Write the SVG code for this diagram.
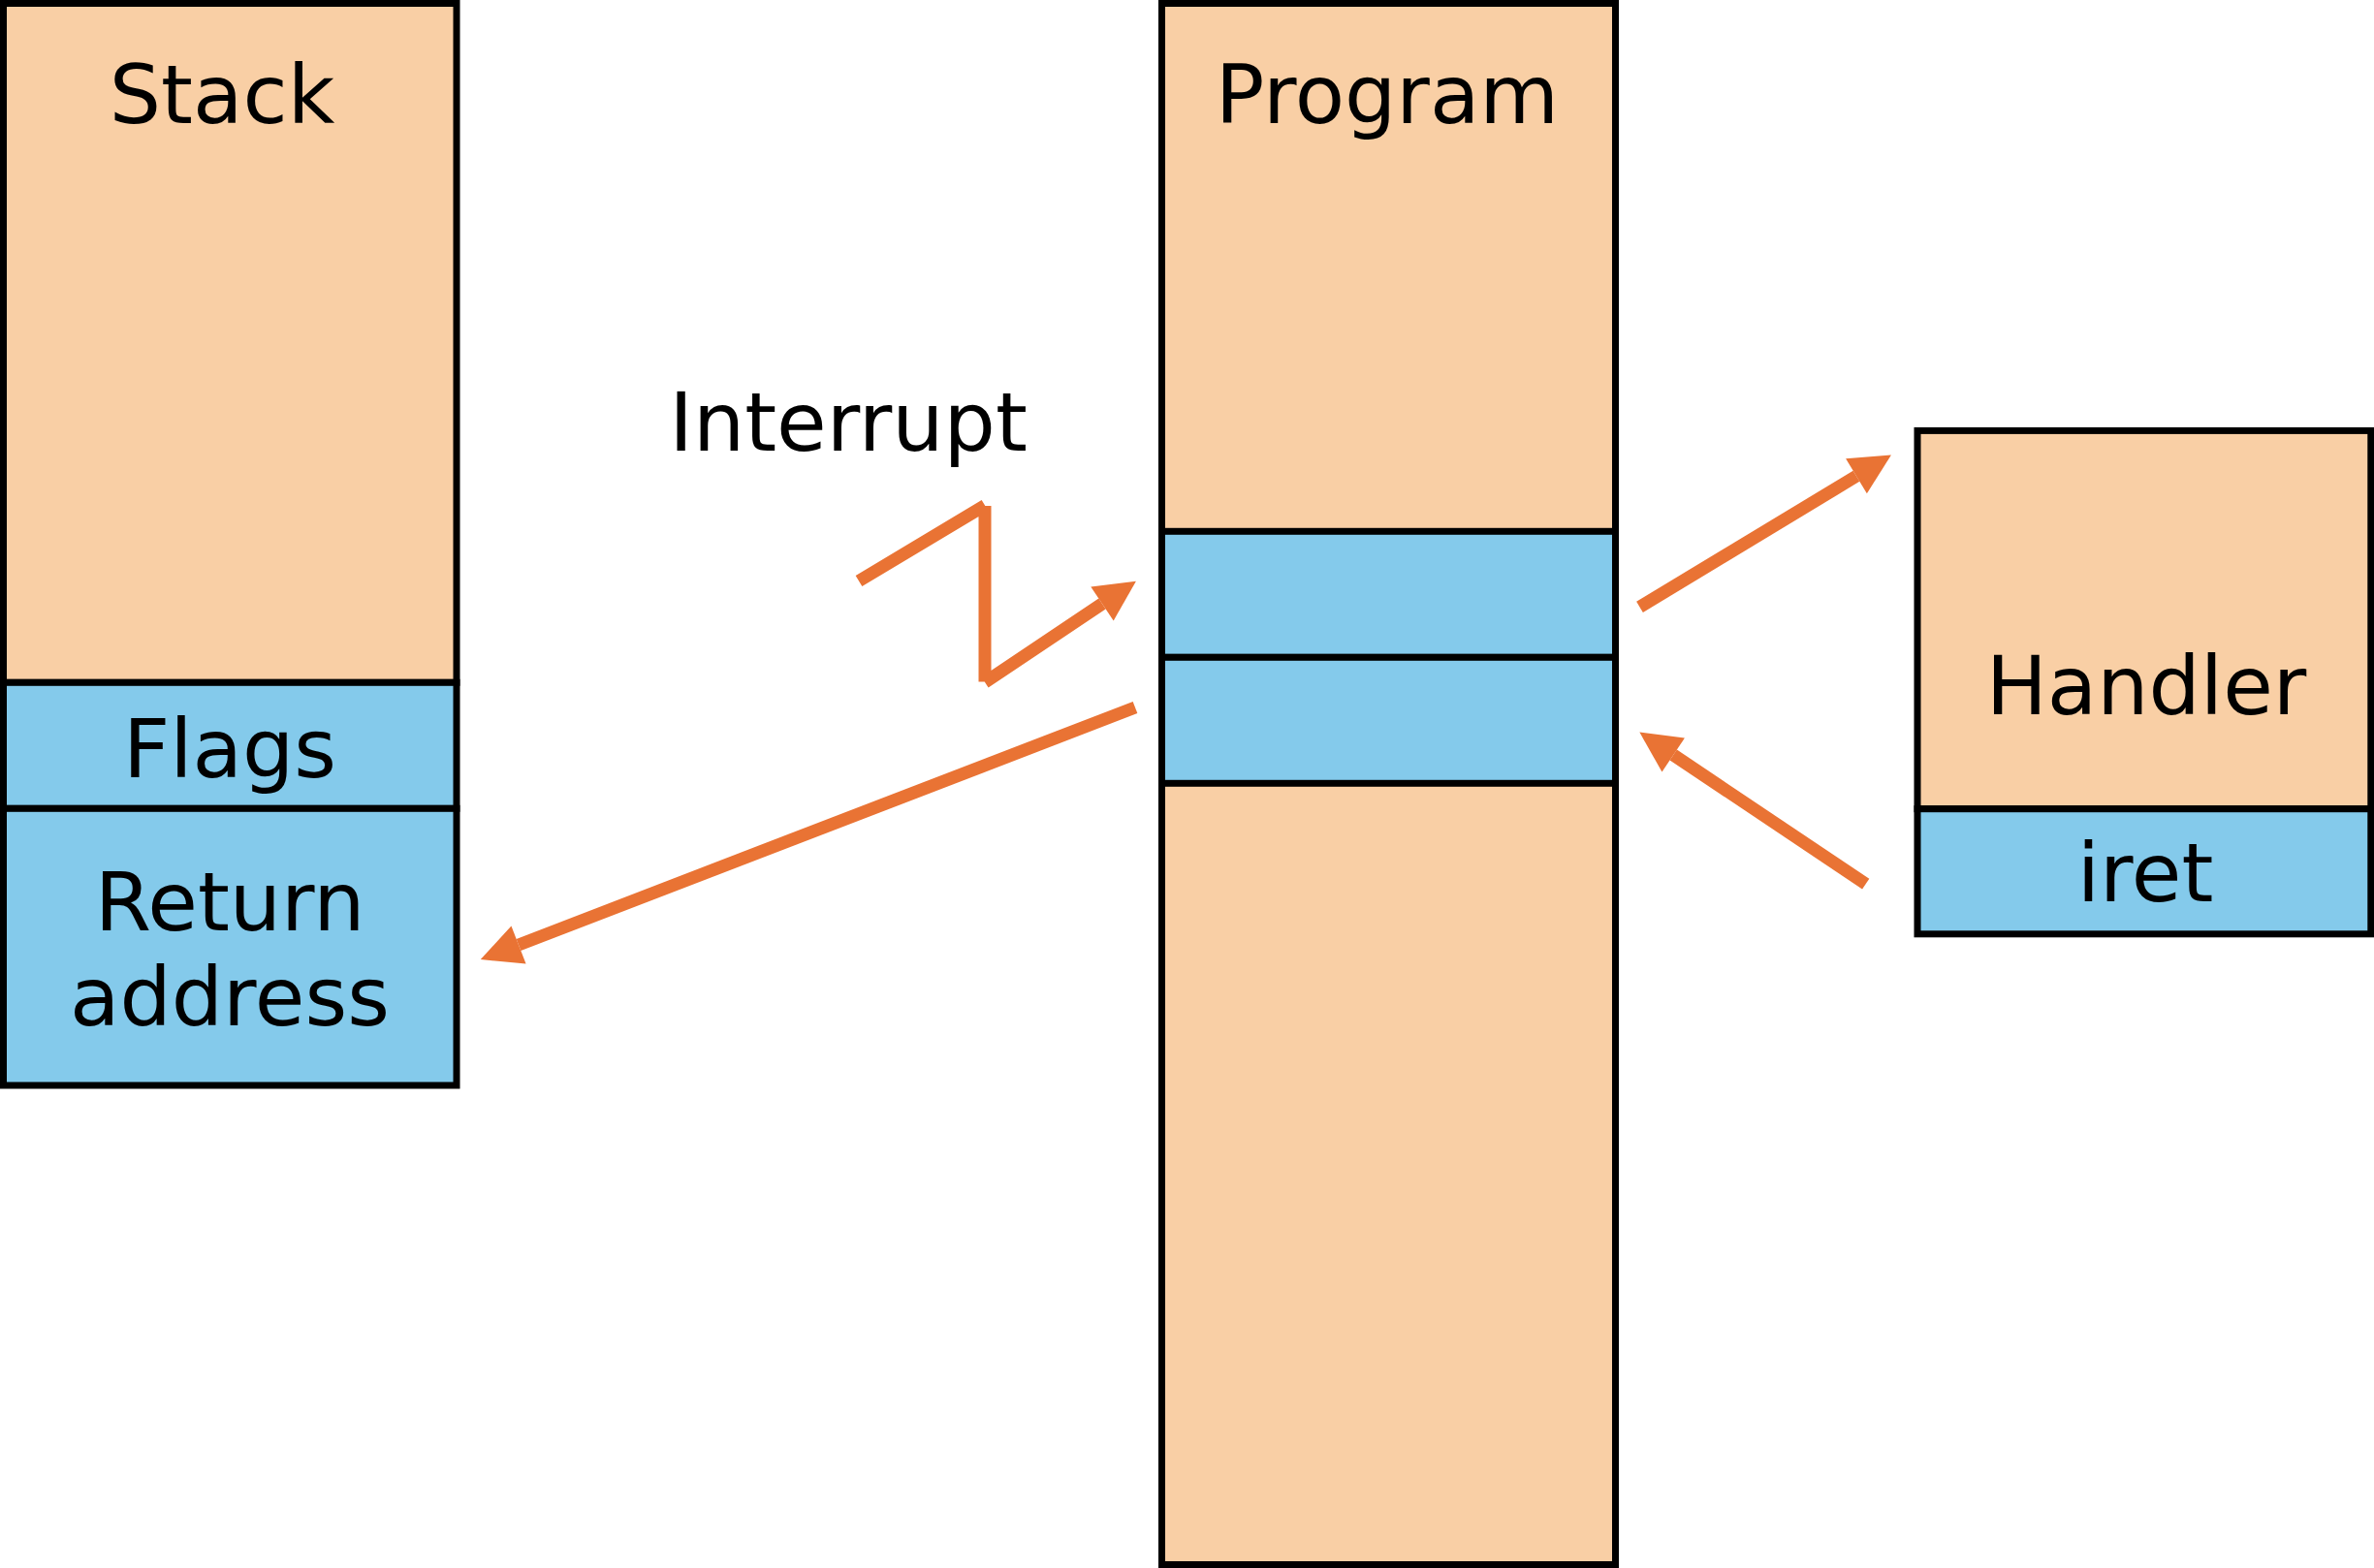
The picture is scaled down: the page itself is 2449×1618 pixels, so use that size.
<svg xmlns="http://www.w3.org/2000/svg" width="2449" height="1618" viewBox="0 0 2449 1618">
  <style>
    .peach { fill: #F9CFA5; stroke: #000000; stroke-width: 7; }
    .blue { fill: #84CAEB; stroke: #000000; stroke-width: 7; }
    .lbl { font-family: "DejaVu Sans", Verdana, sans-serif; font-size: 84px; fill: #000000; text-anchor: middle; }
    .conn { fill: none; stroke: #E97334; stroke-width: 13; stroke-linecap: butt; }
  </style>
  <defs>
    <marker id="arrow" markerUnits="userSpaceOnUse" markerWidth="42" markerHeight="42" refX="0" refY="21" orient="auto" overflow="visible">
      <path d="M0,0 L42,21 L0,42 Z" fill="#E97334"/>
    </marker>
  </defs>
  <rect x="0" y="0" width="2449" height="1618" fill="#FFFFFF"/>

  <g id="stack">
    <rect class="peach" x="3.5" y="3.5" width="467.5" height="700.8"/>
    <text class="lbl" x="229" y="126.7">Stack</text>
  </g>
  <g id="flags">
    <rect class="blue" x="3.5" y="704.3" width="467.5" height="130"/>
    <text class="lbl" x="237" y="801.7">Flags</text>
  </g>
  <g id="return-address">
    <rect class="blue" x="3.5" y="834.3" width="467.5" height="285.7"/>
    <text class="lbl" x="237" y="960">Return</text>
    <text class="lbl" x="237" y="1058.3">address</text>
  </g>

  <g id="program">
    <rect class="peach" x="1198.5" y="3.5" width="468" height="1611"/>
    <rect class="blue" x="1198.5" y="548.3" width="468" height="130"/>
    <rect class="blue" x="1198.5" y="678.3" width="468" height="130"/>
    <text class="lbl" x="1431" y="126.7">Program</text>
  </g>

  <g id="handler">
    <rect class="peach" x="1978" y="444.4" width="467.8" height="390.3"/>
    <text class="lbl" x="2214" y="736.8">Handler</text>
  </g>
  <g id="iret">
    <rect class="blue" x="1978" y="834.7" width="467.8" height="129.1"/>
    <text class="lbl" x="2213" y="930">iret</text>
  </g>

  <g id="interrupt-label">
    <text class="lbl" x="875" y="465">Interrupt</text>
  </g>

  <g id="connectors">
    <path class="conn" d="M886,599.5 L1016,521.5 M1016,522 L1016,703.5 M1016,704 L1137,623" marker-end="url(#arrow)"/>
    <path class="conn" d="M1171,730 L535,975" marker-end="url(#arrow)"/>
    <path class="conn" d="M1691.5,626.4 L1915,491.3" marker-end="url(#arrow)"/>
    <path class="conn" d="M1924.7,912.2 L1726.2,779" marker-end="url(#arrow)"/>
  </g>
</svg>
